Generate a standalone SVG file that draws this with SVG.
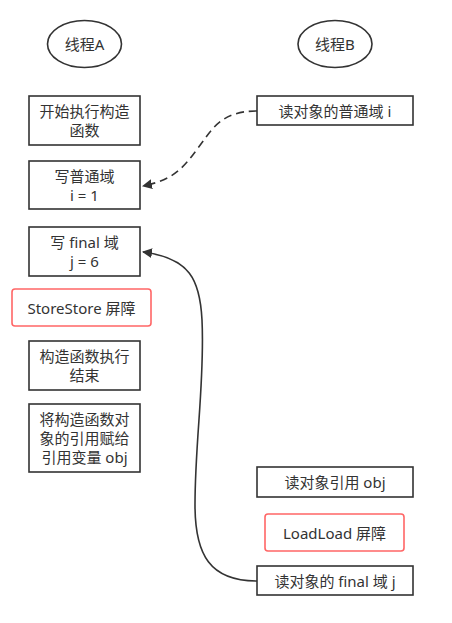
<svg xmlns="http://www.w3.org/2000/svg" width="452" height="623" viewBox="0 0 452 623">
<defs>
<style>
.n{fill:#fff;stroke:#333;stroke-width:1.6}
.r{fill:#fff;stroke:#FF6666;stroke-width:1.6}
text{font-family:"Noto Sans","Noto Sans CJK SC",sans-serif;font-size:15px;fill:#333;text-anchor:middle;dominant-baseline:central}
.c{fill:none;stroke:#333;stroke-width:1.6}
</style>
<marker id="ah" viewBox="0 0 10 10" refX="9" refY="5" markerWidth="10" markerHeight="10" markerUnits="userSpaceOnUse" orient="auto">
<path d="M0,0 L10,5 L0,10 Z" fill="#333"/>
</marker>
</defs>
<rect width="452" height="623" fill="#fff"/>
<g id="threadA"><ellipse class="n" cx="84.5" cy="44" rx="37" ry="23.5"/><text x="84.5" y="44">线程A</text></g>
<g id="threadB"><ellipse class="n" cx="335" cy="44" rx="37" ry="23.5"/><text x="335" y="44">线程B</text></g>
<g id="a1"><rect class="n" x="29" y="96" width="111" height="49"/><text x="84.5" y="111">开始执行构造</text><text x="84.5" y="130">函数</text></g>
<g id="a2"><rect class="n" x="29" y="161" width="111" height="48"/><text x="84.5" y="176">写普通域</text><text x="84.5" y="195">i = 1</text></g>
<g id="a3"><rect class="n" x="29" y="227" width="111" height="49"/><text x="84.5" y="242">写 final 域</text><text x="84.5" y="261">j = 6</text></g>
<g id="a4"><rect class="r" x="12" y="289" width="139" height="37" rx="3"/><text x="81.5" y="307.5">StoreStore 屏障</text></g>
<g id="a5"><rect class="n" x="29" y="341" width="111" height="49"/><text x="84.5" y="356">构造函数执行</text><text x="84.5" y="375">结束</text></g>
<g id="a6"><rect class="n" x="29" y="404" width="111" height="68"/><text x="84.5" y="419">将构造函数对</text><text x="84.5" y="438">象的引用赋给</text><text x="84.5" y="457">引用变量 obj</text></g>
<g id="b1"><rect class="n" x="257" y="96" width="156" height="29"/><text x="335" y="110.5">读对象的普通域 i</text></g>
<g id="b2"><rect class="n" x="257" y="467" width="156" height="30"/><text x="335" y="482">读对象引用 obj</text></g>
<g id="b3"><rect class="r" x="265" y="514" width="139" height="37" rx="3"/><text x="334.5" y="532.5">LoadLoad 屏障</text></g>
<g id="b4"><rect class="n" x="257" y="566" width="156" height="29"/><text x="335" y="580.5">读对象的 final 域 j</text></g>
<g id="connectors">
<path class="c" stroke-dasharray="8 5" d="M257,111 C220,111 212,130 198,148 C182,170 172,180 143,186" marker-end="url(#ah)"/>
<path class="c" d="M257,581 C210,581 195,555 195,505 C195,440 205,380 202,320 C200,280 190,258 143,252" marker-end="url(#ah)"/>
</g>
</svg>
